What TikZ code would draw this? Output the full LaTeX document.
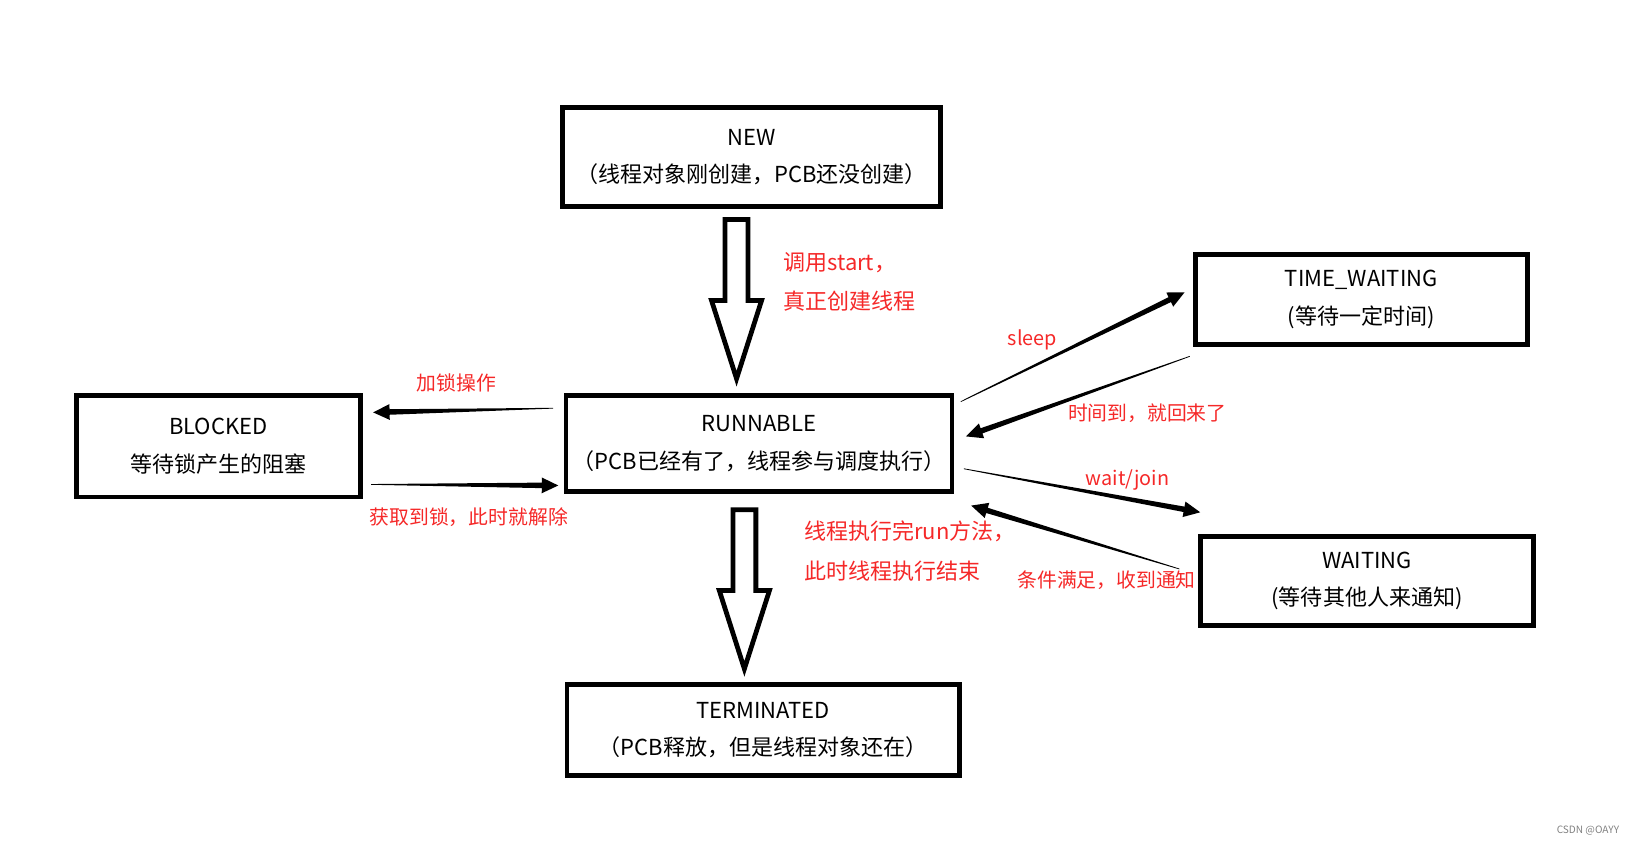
\documentclass[tikz,border=0pt]{standalone}
\usepackage{fontspec}
\setmainfont{Noto Sans CJK SC}
\usepackage{tikz}
\usetikzlibrary{positioning, calc}
\definecolor{labelred}{RGB}{245,40,40}
\tikzstyle{status} = [rectangle, draw=black, line width=2.6pt, inner sep=0pt, align=center, font=\fontsize{12}{20.5}\selectfont]
\tikzstyle{redlabel} = [text=labelred, inner sep=0pt, align=left, font=\fontsize{12}{21.6}\selectfont]
\tikzstyle{smallred} = [text=labelred, inner sep=0pt, font=\fontsize{10.8}{13}\selectfont]
\tikzstyle{hollow} = [draw=black, line width=2.6pt, fill=white]
% filled arrow, thin at the start and wide near the head
\newcommand{\taper}[2]{%
  \coordinate (hb) at ($(#2)!9pt!(#1)$);
  \fill ($(#1)!0.2pt!90:(#2)$) -- ($(hb)!1.5pt!90:(#2)$) -- ($(hb)!4.3pt!90:(#2)$) -- (#2)
    -- ($(hb)!4.3pt!-90:(#2)$) -- ($(hb)!1.5pt!-90:(#2)$) -- ($(#1)!0.2pt!-90:(#2)$) -- cycle;}

\begin{document}
\begin{tikzpicture}[x=0.02cm, y=-0.02cm, node distance=5.49cm]
        \useasboundingbox (0,0) rectangle (1568,808);

        \node (runnable) [status, minimum width=7.4cm, minimum height=1.84cm] at (727,425) {RUNNABLE\\（PCB已经有了，线程参与调度执行）};
        \node (new) [status, minimum width=7.24cm, minimum height=1.9cm, above of=runnable, xshift=-0.14cm] {NEW\\（线程对象刚创建，PCB还没创建）};
        \node (terminated) [status, minimum width=7.52cm, minimum height=1.74cm, below of=runnable, xshift=0.08cm] {TERMINATED\\（PCB释放，但是线程对象还在）};
        \node (blocked) [status, minimum width=5.44cm, minimum height=1.94cm, left of=runnable, xshift=-4.87cm, yshift=-0.05cm] {BLOCKED\\等待锁产生的阻塞};
        \node (timew) [status, minimum width=6.36cm, minimum height=1.72cm, right of=runnable, xshift=6.05cm, yshift=2.76cm] {TIME\_WAITING\\(等待一定时间)};
        \node (waiting) [status, minimum width=6.38cm, minimum height=1.7cm, right of=runnable, xshift=6.16cm, yshift=-2.63cm] {WAITING\\(等待其他人来通知)};

        % big hollow arrows
        \coordinate (newtop) at ($(new.south)+(-14.5,10)$);
        \coordinate (newtip) at ($(runnable.north)+(-21.5,-14)$);
        \draw [hollow] ($(newtop)+(-11,0)$) -- ($(newtop)+(11,0)$) -- ($(newtip)+(11,-75)$) -- ($(newtip)+(24,-75)$) -- (newtip) -- ($(newtip)+(-24,-75)$) -- ($(newtip)+(-11,-75)$) -- cycle;
        \coordinate (termtop) at ($(runnable.south)+(-14,15)$);
        \coordinate (termtip) at ($(terminated.north)+(-18,-13)$);
        \draw [hollow] ($(termtop)+(-11,0)$) -- ($(termtop)+(11,0)$) -- ($(termtip)+(11,-75)$) -- ($(termtip)+(24,-75)$) -- (termtip) -- ($(termtip)+(-24,-75)$) -- ($(termtip)+(-11,-75)$) -- cycle;

        % thin arrows
        \coordinate (lockS) at ($(runnable.west)+(-10,-34)$);
        \coordinate (lockT) at ($(blocked.east)+(10,-32.5)$);
        \coordinate (unlockS) at ($(blocked.east)+(8,36.5)$);
        \coordinate (unlockT) at ($(runnable.west)+(-5,40)$);
        \coordinate (sleepS) at ($(runnable.north east)+(6,8)$);
        \coordinate (sleepT) at ($(timew.west)+(-8,-7)$);
        \coordinate (backS) at ($(timew.south west)+(-3,9)$);
        \coordinate (backT) at ($(runnable.east)+(11,-7)$);
        \coordinate (waitS) at ($(runnable.east)+(9,24)$);
        \coordinate (waitT) at ($(waiting.north west)+(2,-21)$);
        \coordinate (wakeS) at ($(waiting.west)+(-18,-11.5)$);
        \coordinate (wakeT) at ($(runnable.south east)+(16,11)$);
        \taper{lockS}{lockT}
        \taper{unlockS}{unlockT}
        \taper{sleepS}{sleepT}
        \taper{backS}{backT}
        \taper{waitS}{waitT}
        \taper{wakeS}{wakeT}

        % labels
        \node (startlbl) [redlabel, anchor=west] at (750,270) {调用start，\\真正创建线程};
        \node (endlbl) [redlabel, anchor=west] at (770,528) {线程执行完run方法，\\此时线程执行结束};
        \node (lockop) [smallred] at (437,367) {加锁操作};
        \node (gotlock) [smallred] at (449,495) {获取到锁，此时就解除};
        \node (sleeplbl) [smallred] at (989,326) {sleep};
        \node (timeup) [smallred] at (1099,396) {时间到，就回来了};
        \node (waitlbl) [smallred] at (1080,460) {wait/join};
        \node (notify) [smallred] at (1060,556) {条件满足，收到通知};
        \node (mark) [text=gray, inner sep=0pt, font=\fontsize{5.5}{6}\selectfont] at (1521,796) {CSDN @OAYY};
        
        \end{tikzpicture}
\end{document}
